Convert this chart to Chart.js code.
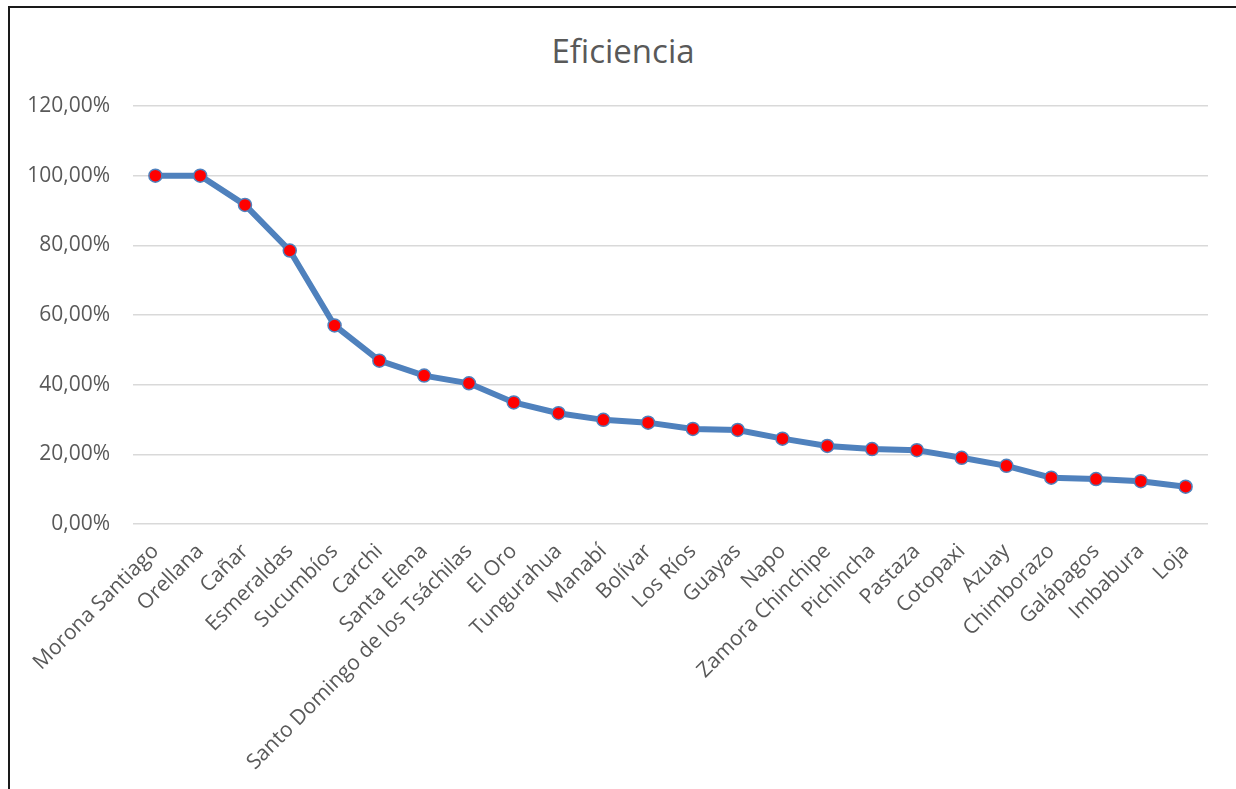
<!DOCTYPE html>
<html>
<head>
<meta charset="utf-8">
<script src="https://cdn.jsdelivr.net/npm/chart.js@4/dist/chart.umd.min.js"></script>
<style>
  html, body { margin: 0; padding: 0; background: #fff; overflow: hidden; }
  #frame { position: absolute; left: 8px; top: 6px; width: 1300px; height: 900px;
           border-left: 2px solid #1a1a1a; border-top: 2px solid #1a1a1a; }
  #wrap { position: absolute; left: 0; top: 0; width: 1236px; height: 789px; }
  #title { position: absolute; left: 423px; top: 31px; width: 400px; text-align: center;
           font: normal 33px/40px "Open Sans", "DejaVu Sans", sans-serif; color: #595959; margin: 0; }
</style>
</head>
<body>
<div id="frame"></div>
<h1 id="title">Eficiencia</h1>
<div id="wrap"><canvas id="chart" width="1236" height="789"></canvas></div>
<script>
// Provinces, ordered by efficiency
const provincias = [
  'Morona Santiago', 'Orellana', 'Cañar', 'Esmeraldas', 'Sucumbíos', 'Carchi',
  'Santa Elena', 'Santo Domingo de los Tsáchilas', 'El Oro', 'Tungurahua', 'Manabí',
  'Bolívar', 'Los Ríos', 'Guayas', 'Napo', 'Zamora Chinchipe', 'Pichincha', 'Pastaza',
  'Cotopaxi', 'Azuay', 'Chimborazo', 'Galápagos', 'Imbabura', 'Loja'
];

// Efficiency in percent
const eficiencia = [
  100.0, 100.0, 91.6, 78.5, 57.0, 46.9,
  42.6, 40.4, 34.9, 31.8, 29.9,
  29.1, 27.3, 27.0, 24.5, 22.4, 21.5, 21.2,
  19.0, 16.7, 13.3, 12.9, 12.3, 10.7
];

// Y axis range and step
const yMin = 0;
const yMax = 120;
const yStep = 20;

const fmtPct = v => v.toFixed(2).replace('.', ',') + '%';

const textColor = '#595959';
const fontFamily = '"Open Sans", "DejaVu Sans", sans-serif';

new Chart(document.getElementById('chart'), {
  type: 'line',
  data: {
    labels: provincias,
    datasets: [{
      label: 'Eficiencia',
      data: eficiencia,
      borderColor: '#4F81BD',
      borderWidth: 6,
      pointRadius: 6.5,
      pointBackgroundColor: '#FF0000',
      pointBorderColor: '#4F81BD',
      pointBorderWidth: 1.5,
      tension: 0,
      fill: false
    }]
  },
  options: {
    responsive: false,
    animation: false,
    layout: { padding: { left: 10, right: 28, top: 106, bottom: 0 } },
    plugins: {
      legend: { display: false },
      tooltip: { enabled: false },
      title: { display: false }
    },
    scales: {
      x: {
        offset: true,
        grid: { display: false, drawTicks: false },
        border: { display: false },
        ticks: {
          color: textColor,
          font: { family: fontFamily, size: 21 },
          maxRotation: 45,
          minRotation: 45,
          autoSkip: false,
          padding: 15
        },
        afterFit: s => { s.height = 789 - 524; }
      },
      y: {
        min: yMin,
        max: yMax,
        grid: { color: '#D9D9D9', lineWidth: 1.5, drawTicks: false },
        border: { display: false },
        ticks: {
          stepSize: yStep,
          color: textColor,
          font: { family: fontFamily, size: 21 },
          padding: 23,
          callback: v => fmtPct(v)
        },
        afterFit: s => { s.width = 133 - 10; }
      }
    }
  }
});
</script>
</body>
</html>
